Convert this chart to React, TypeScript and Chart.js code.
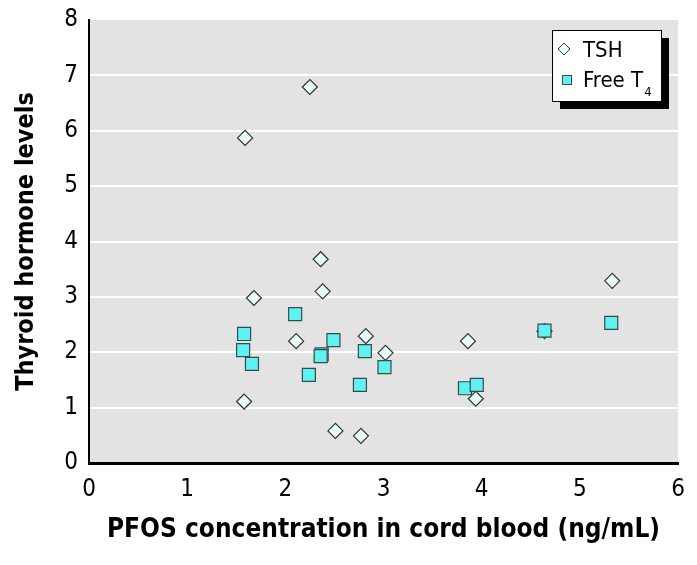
import React, { useEffect, useRef } from "react";
import { Chart, registerables } from "chart.js";

Chart.register(...registerables);

const FONT = "'Liberation Sans Narrow', 'DejaVu Sans Condensed', 'Roboto Condensed', 'Liberation Sans', sans-serif";

const tshX = [1.59, 2.25, 1.68, 1.58, 2.36, 2.38, 2.11, 2.82, 3.02, 2.51, 2.77, 3.86, 3.94, 4.64, 5.33];
const tshY = [5.87, 6.79, 2.98, 1.11, 3.68, 3.10, 2.20, 2.29, 1.99, 0.58, 0.49, 2.20, 1.16, 2.38, 3.29];

const t4X = [1.58, 1.57, 1.66, 2.10, 2.49, 2.37, 2.36, 2.24, 2.81, 3.01, 2.76, 3.83, 3.95, 4.64, 5.32];
const t4Y = [2.33, 2.04, 1.79, 2.69, 2.22, 1.96, 1.93, 1.59, 2.02, 1.73, 1.41, 1.35, 1.41, 2.39, 2.53];

const seriesNames = ["TSH", "Free T", "4"];
const xTitle = "PFOS concentration in cord blood (ng/mL)";
const yTitle = "Thyroid hormone levels";

const bgPlugin = {
  id: "plotBg",
  beforeDraw(chart: any) {
    const { ctx, chartArea } = chart;
    ctx.save();
    ctx.fillStyle = "#e3e3e3";
    ctx.fillRect(chartArea.left, chartArea.top, chartArea.right - chartArea.left, chartArea.bottom - chartArea.top);
    ctx.restore();
  },
};

const legendPlugin = {
  id: "customLegend",
  afterDraw(chart: any) {
    const ctx = chart.ctx;
    ctx.save();
    ctx.fillStyle = "#000";
    ctx.fillRect(560, 38, 109, 71);
    ctx.fillStyle = "#fff";
    ctx.fillRect(552, 30, 110, 72);
    ctx.strokeStyle = "#000";
    ctx.lineWidth = 1;
    ctx.strokeRect(552.5, 30.5, 109, 71);
    ctx.beginPath();
    ctx.moveTo(564, 43);
    ctx.lineTo(570, 49);
    ctx.lineTo(564, 55);
    ctx.lineTo(558, 49);
    ctx.closePath();
    ctx.fillStyle = "#e8fcfc";
    ctx.fill();
    ctx.strokeStyle = "#333";
    ctx.stroke();
    ctx.fillStyle = "#5ff2f2";
    ctx.fillRect(562, 75, 10, 10);
    ctx.strokeStyle = "#3a4a4a";
    ctx.strokeRect(562.5, 75.5, 9, 9);
    ctx.fillStyle = "#000";
    ctx.textBaseline = "alphabetic";
    ctx.textAlign = "left";
    ctx.font = `22px ${FONT}`;
    ctx.fillText(seriesNames[0], 583, 57);
    ctx.fillText(seriesNames[1], 583, 87);
    const w = ctx.measureText(seriesNames[1]).width;
    ctx.font = `13px ${FONT}`;
    ctx.fillText(seriesNames[2], 583 + w + 1, 96);
    ctx.restore();
  },
};

export default function App() {
  const ref = useRef<HTMLCanvasElement>(null);
  useEffect(() => {
    document.body.style.margin = "0";
    const chart = new Chart(ref.current!, {
      type: "scatter",
      data: {
        datasets: [
          {
            label: "TSH",
            data: tshX.map((x, i) => ({ x, y: tshY[i] })),
            pointStyle: "rectRot",
            pointRadius: 7.5,
            backgroundColor: "#e8fcfc",
            borderColor: "#333",
            borderWidth: 1.2,
            order: 1,
          },
          {
            label: "Free T4",
            data: t4X.map((x, i) => ({ x, y: t4Y[i] })),
            pointStyle: "rect",
            pointRadius: 9.2,
            backgroundColor: "#5ff2f2",
            borderColor: "#3a4a4a",
            borderWidth: 1.2,
            order: 0,
          },
        ],
      },
      options: {
        animation: false,
        responsive: false,
        layout: { padding: { left: 0, right: 19, top: 20, bottom: 0 } },
        plugins: { legend: { display: false }, tooltip: { enabled: false } },
        scales: {
          x: {
            type: "linear",
            min: 0,
            max: 6,
            afterFit: (s: any) => { s.height = 102; },
            grid: { display: false, drawTicks: false },
            border: { display: true, color: "#000", width: 3 },
            ticks: { stepSize: 1, padding: 12, color: "#000", font: { family: FONT, size: 24 } },
            title: {
              display: true,
              text: xTitle,
              color: "#000",
              font: { family: FONT, size: 26, weight: "bold", lineHeight: 1 },
              padding: { top: 0, bottom: 22 },
            },
          },
          y: {
            type: "linear",
            min: 0,
            max: 8,
            afterFit: (s: any) => { s.width = 89; s.paddingTop = 0; s.paddingBottom = 0; },
            grid: { color: (c: any) => (c.tick.value === 0 || c.tick.value === 8 ? "rgba(0,0,0,0)" : "#ffffff"), lineWidth: 2, drawTicks: false },
            border: { display: true, color: "#000", width: 2 },
            ticks: { stepSize: 1, padding: 11, color: "#000", font: { family: FONT, size: 24 } },
            title: {
              display: true,
              text: yTitle,
              color: "#000",
              font: { family: FONT, size: 25, weight: "bold", lineHeight: 1 },
              padding: { top: 14, bottom: 0 },
            },
          },
        },
      },
      plugins: [bgPlugin, legendPlugin],
    });
    return () => chart.destroy();
  }, []);
  return (
    <div style={{ width: 697, height: 565 }}>
      <canvas ref={ref} width={697} height={565} style={{ display: "block" }} />
    </div>
  );
}
